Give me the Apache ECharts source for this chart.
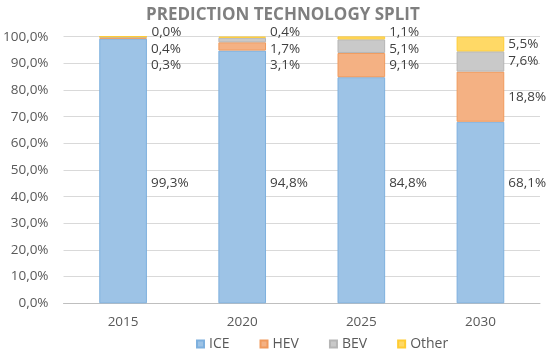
<!DOCTYPE html>
<html>
<head>
<meta charset="utf-8">
<script src="https://cdn.jsdelivr.net/npm/echarts@6/dist/echarts.min.js"></script>
<style>html,body{margin:0;padding:0;background:#fff;}#c{width:550px;height:351px;}</style>
</head>
<body>
<div id="c"></div>
<script>
const categories = ['2015', '2020', '2025', '2030'];
const ice   = [99.3, 94.8, 84.8, 68.1];
const hev   = [0.3, 3.1, 9.1, 18.8];
const bev   = [0.4, 1.7, 5.1, 7.6];
const other = [0.0, 0.4, 1.1, 5.5];
const yTicks = { min: 0, max: 100, interval: 10 };

// label placement (value units): keep stacked labels from overlapping
const LABEL_GAP = 6.2, LABEL_TOP = 101.6, ICE_LABEL_AT = 45;
const labelY = [[], [], [], []];
for (let i = 0; i < categories.length; i++) {
  const hMid = ice[i] + hev[i] / 2;
  const bMid = ice[i] + hev[i] + bev[i] / 2;
  const oMid = ice[i] + hev[i] + bev[i] + other[i] / 2;
  let yH = hMid;
  let yB = Math.max(bMid, yH + LABEL_GAP);
  let yO = Math.max(oMid, yB + LABEL_GAP);
  yO = Math.min(yO, LABEL_TOP);
  yB = Math.min(yB, yO - LABEL_GAP);
  yH = Math.min(yH, yB - LABEL_GAP);
  labelY[0][i] = ICE_LABEL_AT;
  labelY[1][i] = yH;
  labelY[2][i] = yB;
  labelY[3][i] = yO;
}

const fmt = v => Number(v).toFixed(1).replace('.', ',') + '%';
const chart = echarts.init(document.getElementById('c'), null, { renderer: 'canvas' });
const FONT = '"Open Sans", sans-serif';

function mkSeries(name, data, fill, border, idx) {
  return {
    name, type: 'bar', stack: 'total', data,
    barWidth: '40%',
    itemStyle: { color: fill, borderColor: border, borderWidth: 1 },
    label: {
      show: true, position: 'right', distance: 4,
      formatter: p => fmt(p.value),
      color: '#404040', fontSize: 13.5, fontFamily: FONT
    },
    labelLayout: function (p) {
      const y = chart.convertToPixel({ yAxisIndex: 0 }, labelY[idx][p.dataIndex]);
      return { x: p.rect.x + p.rect.width + 4, y: y, align: 'left', verticalAlign: 'middle' };
    }
  };
}

chart.setOption({
  animation: false,
  backgroundColor: '#fff',
  title: {
    text: 'PREDICTION TECHNOLOGY SPLIT',
    left: 141, top: 2,
    textStyle: { color: '#7F7F7F', fontSize: 17, fontWeight: 'bold', fontFamily: FONT }
  },
  legend: {
    top: 332, left: 191,
    itemWidth: 7, itemHeight: 7, itemGap: 30,
    icon: 'rect',
    textStyle: { color: '#595959', fontSize: 14, fontFamily: FONT },
    data: ['ICE', 'HEV', 'BEV', 'Other']
  },
  grid: { left: 63, right: 10, top: 36.7, bottom: 47.7, containLabel: false },
  xAxis: {
    type: 'category', data: categories,
    axisTick: { show: false },
    axisLine: { lineStyle: { color: '#BFBFBF' } },
    axisLabel: { color: '#595959', fontSize: 13.5, fontFamily: FONT, margin: 12 }
  },
  yAxis: {
    type: 'value', min: yTicks.min, max: yTicks.max, interval: yTicks.interval,
    axisLine: { show: false }, axisTick: { show: false },
    splitLine: { lineStyle: { color: '#D9D9D9' } },
    axisLabel: { color: '#595959', fontSize: 13.5, fontFamily: FONT, formatter: v => fmt(v), margin: 15 }
  },
  series: [
    mkSeries('ICE', ice, '#9DC3E6', '#7EB0DE', 0),
    mkSeries('HEV', hev, '#F4B183', '#F09A5C', 1),
    mkSeries('BEV', bev, '#C9C9C9', '#B5B5B5', 2),
    mkSeries('Other', other, '#FFD966', '#FFCC33', 3)
  ]
});
</script>
</body>
</html>
